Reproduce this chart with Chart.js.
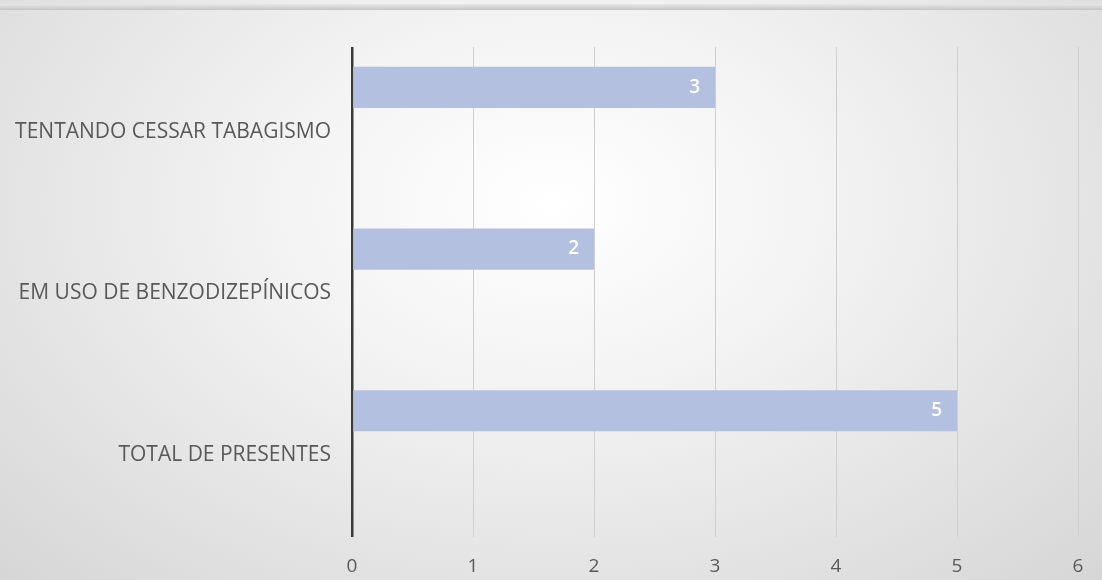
<!DOCTYPE html>
<html>
<head>
<meta charset="utf-8">
<script src="https://cdn.jsdelivr.net/npm/chart.js@4"></script>
<style>
    html, body { margin: 0; padding: 0; }
    body { width: 1102px; height: 580px; overflow: hidden; }
    #wrap {
        position: relative; width: 1102px; height: 580px;
        background: radial-gradient(ellipse at 50% 35%, #ffffff 0%, #f3f3f3 35%, #d6d6d6 100%);
    }
    #topband {
        position: absolute; left: 0; top: 4px; width: 1102px; height: 6px;
        background: linear-gradient(#e8e8e8, #c4c4c4);
    }
</style>
</head>
<body>
<div id="wrap">
    <div id="topband"></div>
    <canvas id="chart" width="1102" height="580"></canvas>
</div>
<script>
var categories = ['TENTANDO CESSAR TABAGISMO', 'EM USO DE BENZODIZEPÍNICOS', 'TOTAL DE PRESENTES'];
var values = [3, 2, 5];
var emptySeries = [null, null, null];
var xTicks = [0, 1, 2, 3, 4, 5, 6];

// draws the white value label inside the end of each bar
var valueLabels = {
    id: 'valueLabels',
    afterDatasetsDraw: function (chart) {
        var ctx = chart.ctx;
        var meta = chart.getDatasetMeta(0);
        ctx.save();
        ctx.fillStyle = '#ffffff';
        ctx.font = '600 19px "Open Sans"';
        ctx.textAlign = 'right';
        ctx.textBaseline = 'middle';
        meta.data.forEach(function (bar, i) {
            ctx.fillText(String(values[i]), bar.x - 15, bar.y);
        });
        ctx.restore();
    }
};

var ctx = document.getElementById('chart');
new Chart(ctx.getContext('2d'), {
    type: 'bar',
    data: {
        labels: categories,
        datasets: [
            { data: values, backgroundColor: '#b4c0e0', borderWidth: 0 },
            { data: emptySeries, backgroundColor: '#b4c0e0', borderWidth: 0 }
        ]
    },
    options: {
        indexAxis: 'y',
        responsive: false,
        animation: false,
        categoryPercentage: 1.0,
        barPercentage: 0.51,
        layout: { padding: { top: 47, right: 24, left: 0, bottom: 0 } },
        plugins: {
            legend: { display: false },
            tooltip: { enabled: false }
        },
        scales: {
            x: {
                min: 0,
                max: 6,
                afterBuildTicks: function (scale) {
                    scale.ticks = xTicks.map(function (v) { return { value: v }; });
                },
                afterFit: function (scale) { scale.height = 48; },
                grid: {
                    color: function (c) { return c.tick && c.tick.value === 0 ? '#3a3a3a' : '#cfcfcf'; },
                    lineWidth: function (c) { return c.tick && c.tick.value === 0 ? 2.5 : 1; },
                    drawTicks: true,
                    tickLength: 5
                },
                border: { display: false },
                ticks: {
                    color: '#595959',
                    font: { family: '"Open Sans"', size: 19 },
                    padding: 18
                }
            },
            y: {
                afterFit: function (scale) { scale.width = 352; },
                grid: { display: false, drawTicks: false },
                border: { display: false },
                ticks: {
                    color: '#595959',
                    font: { family: '"Open Sans"', size: 21 },
                    padding: 21,
                    labelOffset: 4
                }
            }
        }
    },
    plugins: [valueLabels]
});
</script>
</body>
</html>
